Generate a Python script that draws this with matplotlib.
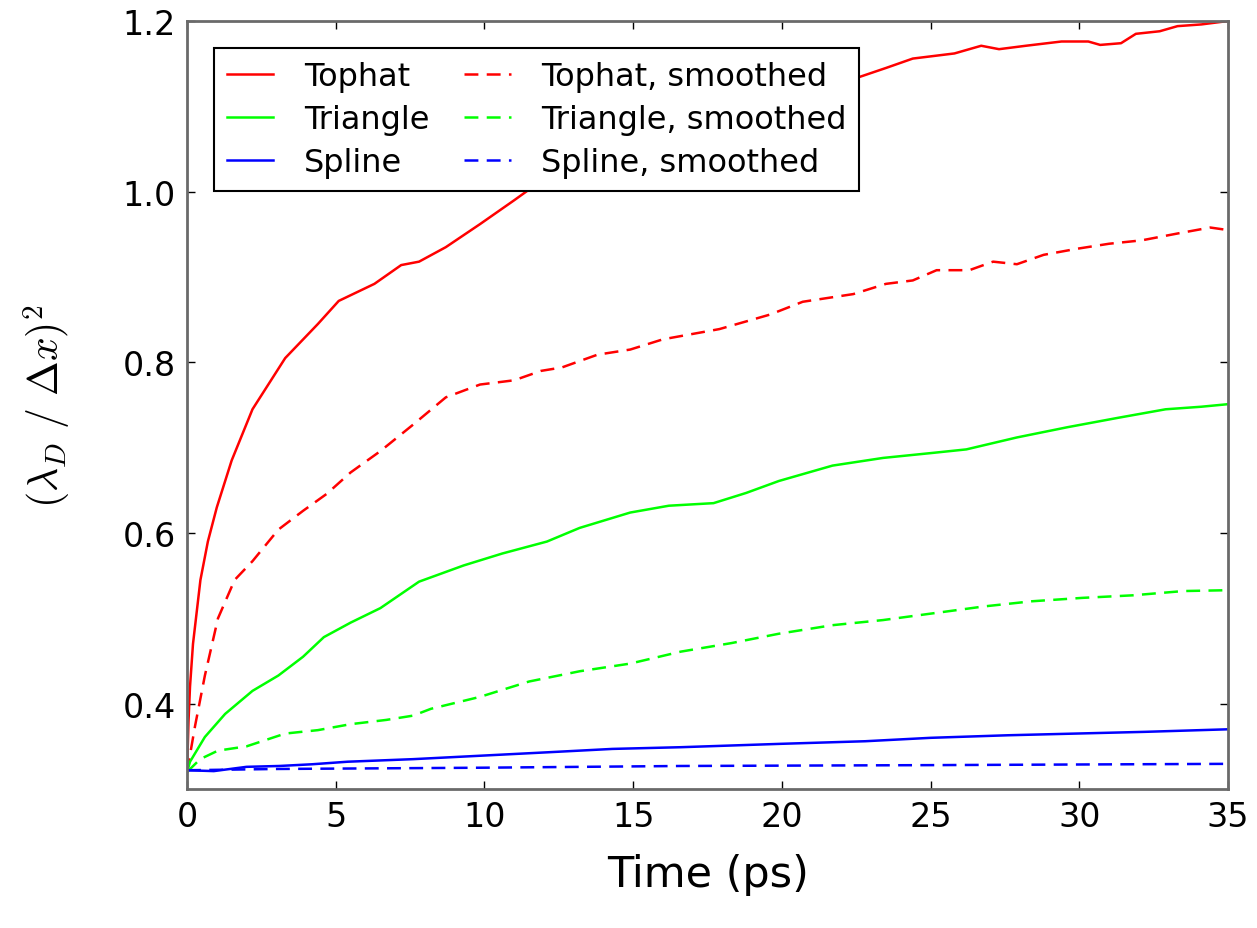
import numpy as np
import matplotlib
matplotlib.use("Agg")
import matplotlib.pyplot as plt

# values
t_tophat = [0, 0.05, 0.1, 0.2, 0.3, 0.45, 0.7, 1.0, 1.5, 2.2, 3.3, 4.4, 5.1, 6.3, 7.2, 7.8, 8.7,
            9.85, 11.0, 11.4, 12.0, 14.0, 17.0, 20.0, 22.4, 23.5, 24.4, 25.8, 26.7, 27.3, 28.2,
            29.4, 30.3, 30.7, 31.4, 31.9, 32.7, 33.3, 34.1, 35.0]
tophat = [0.32, 0.38, 0.42, 0.47, 0.50, 0.545, 0.59, 0.63, 0.685, 0.745, 0.805, 0.845, 0.872,
          0.892, 0.914, 0.918, 0.935, 0.962, 0.99, 1.0, 1.015, 1.045, 1.085, 1.11, 1.132,
          1.145, 1.156, 1.162, 1.171, 1.167, 1.171, 1.176, 1.176, 1.172, 1.174, 1.185, 1.188,
          1.194, 1.196, 1.2]

t_tophat_s = [0, 0.27, 0.6, 1.04, 1.6, 2.2, 3.07, 3.9, 4.7, 5.5, 6.5, 7.6, 8.7, 9.85, 11.0, 11.9,
              12.6, 13.8, 14.9, 16.0, 17.9, 19.6, 20.7, 22.4, 23.5, 24.4, 25.2, 26.3, 27.1, 27.9,
              28.8, 29.9, 31.0, 32.1, 33.3, 34.4, 35.0]
tophat_s = [0.32, 0.374, 0.433, 0.50, 0.545, 0.567, 0.604, 0.626, 0.646, 0.671, 0.696, 0.727,
            0.759, 0.774, 0.779, 0.79, 0.794, 0.809, 0.815, 0.827, 0.839, 0.856, 0.871, 0.88,
            0.892, 0.896, 0.908, 0.908, 0.918, 0.915, 0.926, 0.933, 0.939, 0.943, 0.951, 0.958,
            0.955]

t_triangle = [0, 0.1, 0.6, 1.28, 2.2, 3.07, 3.9, 4.6, 5.5, 6.5, 7.8, 9.3, 10.6, 12.1, 13.2, 14.9,
              16.2, 17.7, 18.8, 19.9, 21.7, 23.4, 25.1, 26.2, 27.9, 29.6, 31.3, 32.9, 34.1, 35.0]
triangle = [0.32, 0.332, 0.361, 0.388, 0.415, 0.433, 0.455, 0.478, 0.495, 0.512, 0.543, 0.562,
            0.576, 0.59, 0.606, 0.624, 0.632, 0.635, 0.647, 0.661, 0.679, 0.688, 0.694, 0.698,
            0.712, 0.724, 0.735, 0.745, 0.748, 0.751]

t_triangle_s = [0, 0.44, 1.04, 2.0, 3.3, 4.4, 5.5, 6.7, 7.6, 8.2, 9.85, 11.5, 13.2, 14.9, 16.6,
                18.3, 19.9, 21.7, 23.4, 25.1, 26.8, 28.4, 30.1, 31.8, 33.5, 35.0]
triangle_s = [0.32, 0.335, 0.345, 0.35, 0.365, 0.369, 0.376, 0.381, 0.386, 0.394, 0.408, 0.426,
              0.438, 0.447, 0.461, 0.471, 0.482, 0.492, 0.498, 0.506, 0.514, 0.52, 0.524, 0.527,
              0.532, 0.533]

t_spline = [0, 0.9, 2.0, 3.1, 4.2, 5.4, 7.6, 9.85, 12.1, 14.3, 16.6, 20.0, 22.8, 25.0, 27.6,
            29.9, 32.2, 35.0]
spline = [0.322, 0.321, 0.326, 0.327, 0.329, 0.332, 0.335, 0.339, 0.343, 0.347, 0.349, 0.353,
          0.356, 0.36, 0.363, 0.365, 0.367, 0.37]

t_spline_s = [0, 3.0, 10.0, 16.6, 25.0, 35.0]
spline_s = [0.322, 0.3235, 0.325, 0.327, 0.328, 0.3295]

plt.rcParams['mathtext.fontset'] = 'cm'
plt.rcParams['lines.scale_dashes'] = False

fig = plt.figure(figsize=(12.57, 9.29), dpi=100)
ax = fig.add_axes([0.1488, 0.1496, 0.8282, 0.8267])

dash = (0, (10, 6))
lw = 1.8
ax.plot(t_tophat, tophat, color='#ff0000', lw=lw, label='Tophat')
ax.plot(t_tophat_s, tophat_s, color='#ff0000', lw=lw, ls=dash, label='Tophat, smoothed')
ax.plot(t_triangle, triangle, color='#00ff00', lw=lw, label='Triangle')
ax.plot(t_triangle_s, triangle_s, color='#00ff00', lw=lw, ls=dash, label='Triangle, smoothed')
ax.plot(t_spline, spline, color='#0000ff', lw=lw, label='Spline')
ax.plot(t_spline_s, spline_s, color='#0000ff', lw=lw, ls=dash, label='Spline, smoothed')

ax.set_xlim(0, 35)
ax.set_ylim(0.3, 1.2)
ax.set_xticks(np.arange(0, 36, 5))
ax.set_yticks([0.4, 0.6, 0.8, 1.0, 1.2])
ax.tick_params(direction='in', top=True, right=True, length=6, width=1,
               labelsize=24, pad=8)
for s in ax.spines.values():
    s.set_color('#6a6a6a')
    s.set_linewidth(2)

ax.set_xlabel('Time (ps)', fontsize=31, labelpad=14)
ax.set_ylabel(r'$(\lambda_D\ /\ \Delta x)^2$', fontsize=30, labelpad=36)

# legend order: solid ones in first column, smoothed in second
h, l = ax.get_legend_handles_labels()
order = [0, 2, 4, 1, 3, 5]
leg = ax.legend([h[i] for i in order], [l[i] for i in order], ncol=2, loc='upper left',
                fontsize=23, fancybox=False, framealpha=1, edgecolor='black',
                handlelength=1.45, handletextpad=0.95, borderaxespad=0.85,
                columnspacing=1.1, labelspacing=0.38, borderpad=0.4)
leg.get_frame().set_linewidth(1.5)

fig.savefig('out.png', dpi=100)
